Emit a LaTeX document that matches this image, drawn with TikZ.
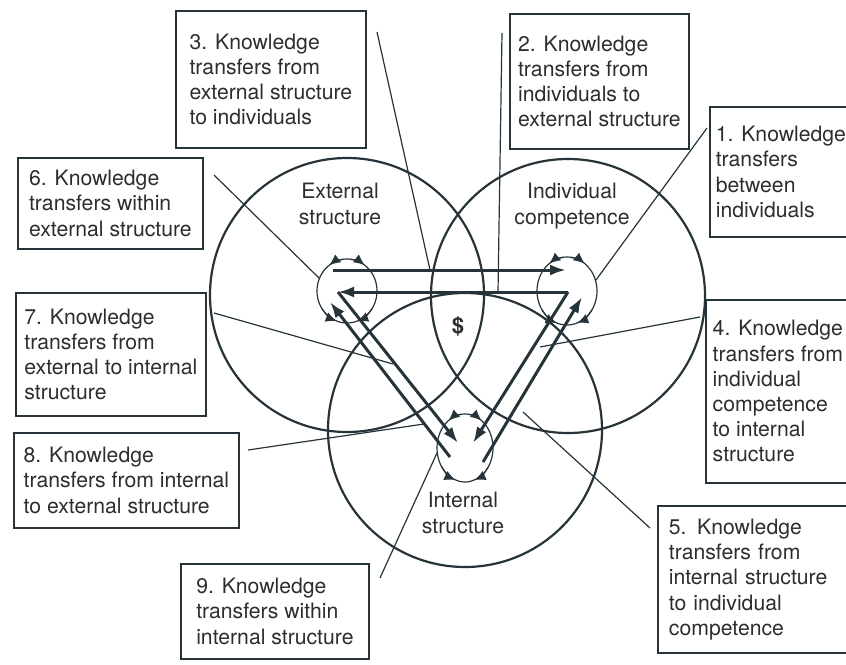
\documentclass[tikz,border=0pt]{standalone}
\usepackage{fontspec}
\setmainfont{TeX Gyre Heros}
\usetikzlibrary{arrows.meta,calc}
\definecolor{ink}{RGB}{38,52,58}
\definecolor{texte}{RGB}{45,45,45}
\begin{document}
\begin{tikzpicture}[x=0.5pt,y=-0.5pt]
\tikzset{
  kbox/.style={draw=ink, line width=0.9pt, anchor=north west, align=left, inner sep=0pt,
    text=texte, font=\fontsize{10.6}{12.6}\selectfont},
  circlab/.style={align=center, text=texte, font=\fontsize{10.6}{12.6}\selectfont},
  leader/.style={ink, line width=0.6pt},
  flow/.style={ink, line width=1.5pt, -{Latex[length=8pt,width=5.5pt]}},
  tick/.style={ink, line width=0.6pt, -{Latex[length=5.5pt,width=5pt]}}
}
\useasboundingbox (0,0) rectangle (846,664);

 % les trois grands cercles
  \draw[ink, line width=1.1pt] (347,295) circle[radius=137];
  \draw[ink, line width=1.1pt] (568,296) circle[radius=137];
  \draw[ink, line width=1.1pt] (465,430) circle[radius=137];
  \node[circlab] (lblE) at (340,204) {External\\structure};
  \node[circlab] (lblI) at (572,206) {Individual\\competence};
  \node[circlab] (lblN) at (463,513) {Internal\\structure};
  \node[text=texte, font=\fontsize{11}{13}\selectfont\bfseries] (dollar) at (458,326) {\$};

 % les petits cercles avec leurs pointes
  \foreach \cx/\cy/\rx/\ry in {347/291/30/32, 567/291/30/34, 465/448/28/34}{
    \draw[ink, line width=0.6pt] (\cx,\cy) ellipse[x radius=\rx, y radius=\ry];
    \draw[tick] ($(\cx,\cy)+(-97:{\rx} and {\ry})$) arc[start angle=-97, end angle=-126, x radius=\rx, y radius=\ry];
    \draw[tick] ($(\cx,\cy)+(-83:{\rx} and {\ry})$) arc[start angle=-83, end angle=-54, x radius=\rx, y radius=\ry];
    \draw[tick] ($(\cx,\cy)+(-214:{\rx} and {\ry})$) arc[start angle=-214, end angle=-250, x radius=\rx, y radius=\ry];
    \draw[tick] ($(\cx,\cy)+(-326:{\rx} and {\ry})$) arc[start angle=-326, end angle=-290, x radius=\rx, y radius=\ry];
  }

 % les flèches entre les cercles
  \coordinate (eA) at (333,270);  \coordinate (iA) at (566,270);
  \coordinate (eC) at (338,292);  \coordinate (iC) at (568,292);
  \coordinate (nL) at (458,443);  \coordinate (nR) at (473,443);
  \coordinate (nL2) at (450,457); \coordinate (eB) at (330,302);
  \coordinate (nR2) at (483,462); \coordinate (iB) at (582,297);
  \draw[flow] (eA) -- (iA);
  \draw[flow] (iC) -- (eC);
  \draw[flow] (eC) -- (nL);
  \draw[flow] (iC) -- (nR);
  \draw[flow] (nL2) -- (eB);
  \draw[flow] (nR2) -- (iB);

 % les cadres
  \node[kbox, minimum width=71pt, minimum height=65pt] (b1) at (709,106) {1. Knowledge\\transfers\\between\\individuals};
  \node[kbox, minimum width=89.5pt, minimum height=67.5pt] (b2) at (509,13) {2. Knowledge\\transfers from\\individuals to\\external structure};
  \node[kbox, minimum width=95pt, minimum height=68.5pt] (b3) at (175,10) {3. Knowledge\\transfers from\\external structure\\to individuals};
  \node[kbox, minimum width=72pt, minimum height=91.5pt] (b4) at (705,299) {4. Knowledge\\transfers from\\individual\\competence\\to internal\\structure};
  \node[kbox, inner xsep=5.5pt, text width=84pt, minimum height=73.5pt] (b5) at (657,505) {5. Knowledge\\transfers from\\internal structure\\to individual\\competence};
  \node[kbox, minimum width=92.5pt, minimum height=45.5pt] (b6) at (17,157) {6. Knowledge\\transfers within\\external structure};
  \node[kbox, minimum width=95pt, minimum height=61.5pt] (b7) at (15,292) {7. Knowledge\\transfers from\\external to internal\\structure};
  \node[kbox, minimum width=112.5pt, minimum height=47.5pt] (b8) at (13,432) {8. Knowledge\\transfers from internal\\to external structure};
  \node[kbox, minimum width=94pt, minimum height=47.5pt] (b9) at (180,563) {9. Knowledge\\transfers within\\internal structure};

 % les traits de rappel
  \coordinate (p1) at (707,128); \coordinate (q1) at (596,280);
  \coordinate (p2) at (502,33);  \coordinate (q2) at (498,292);
  \coordinate (p3) at (377,32);  \coordinate (q3) at (430,270);
  \coordinate (p4) at (700,317); \coordinate (q4) at (540,347);
  \coordinate (p5) at (650,528); \coordinate (q5) at (523,412);
  \coordinate (p6) at (214,175); \coordinate (q6) at (319,278);
  \coordinate (p7) at (214,313); \coordinate (q7) at (393,364);
  \coordinate (p8) at (248,450); \coordinate (q8) at (424,424);
  \coordinate (p9) at (380,578); \coordinate (q9) at (437,453);
  \draw[leader] (p1) -- (q1);
  \draw[leader] (p2) -- (q2);
  \draw[leader] (p3) -- (q3);
  \draw[leader] (p4) -- (q4);
  \draw[leader] (p5) -- (q5);
  \draw[leader] (p6) -- (q6);
  \draw[leader] (p7) -- (q7);
  \draw[leader] (p8) -- (q8);
  \draw[leader] (p9) -- (q9);
\end{tikzpicture}
\end{document}
